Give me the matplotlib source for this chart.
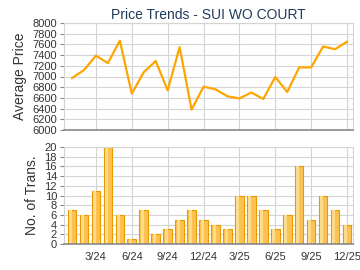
import numpy as np
import matplotlib.pyplot as plt

plt.rcParams['font.family'] = ['Liberation Sans', 'DejaVu Sans']

# monthly data, 1/24 .. 12/25
prices = [6970, 7120, 7390, 7250, 7670, 6680, 7080, 7290, 6740, 7550,
          6380, 6810, 6760, 6630, 6590, 6700, 6580, 6990, 6710, 7170,
          7170, 7560, 7510, 7650]
trans = [7, 6, 11, 20, 6, 1, 7, 2, 3, 5, 7, 5, 4, 3, 10, 10, 7, 3, 6, 16,
         5, 10, 7, 4]
tick_pos = [2, 5, 8, 11, 14, 17, 20, 23]
tick_labels = ['3/24', '6/24', '9/24', '12/24', '3/25', '6/25', '9/25', '12/25']

x = np.arange(len(prices))
grid_c = '#d4d4d4'
txt_c = '#333333'

fig = plt.figure(figsize=(3.6, 2.7), dpi=100)
ax1 = fig.add_axes([64/360, 1-130/270, 289/360, 107/270])
ax2 = fig.add_axes([64/360, 1-244/270, 289/360, 97/270])

def style(ax):
    ax.set_xlim(-0.67, 23.5)
    ax.set_xticks(tick_pos)
    ax.grid(True, color=grid_c, linewidth=0.8)
    ax.set_axisbelow(True)
    for s in ['top', 'right', 'left']:
        ax.spines[s].set_color(grid_c)
    ax.spines['bottom'].set_color('#888888')
    ax.spines['bottom'].set_linewidth(1.2)
    ax.tick_params(colors='#888888', labelcolor=txt_c, labelsize=8, length=3, pad=2)

style(ax1)
ax1.plot(x, prices, color='#FFA500', linewidth=1.6)
ax1.set_ylim(6000, 8000)
ax1.set_yticks(np.arange(6000, 8001, 200))
ax1.tick_params(axis='x', labelbottom=False, length=0)
ax1.set_ylabel('Average Price', fontsize=10, color=txt_c, labelpad=4)
ax1.set_title('Price Trends - SUI WO COURT', fontsize=10, color='#1f3b5c', pad=3)

style(ax2)
ax2.bar(x, trans, width=0.72, color='#FBC252', edgecolor='#E89A00', linewidth=0.8)
ax2.bar(x - 0.12, trans, width=0.25, color='#FDDB8C', linewidth=0)
ax2.set_ylim(0, 20)
ax2.set_yticks(np.arange(0, 21, 2))
ax2.set_xticklabels(tick_labels)
ax2.tick_params(axis='x', length=0, pad=6)
ax2.set_ylabel('No. of Trans.', fontsize=10, color=txt_c, labelpad=4)

fig.savefig('out.png', dpi=100, facecolor='white')
